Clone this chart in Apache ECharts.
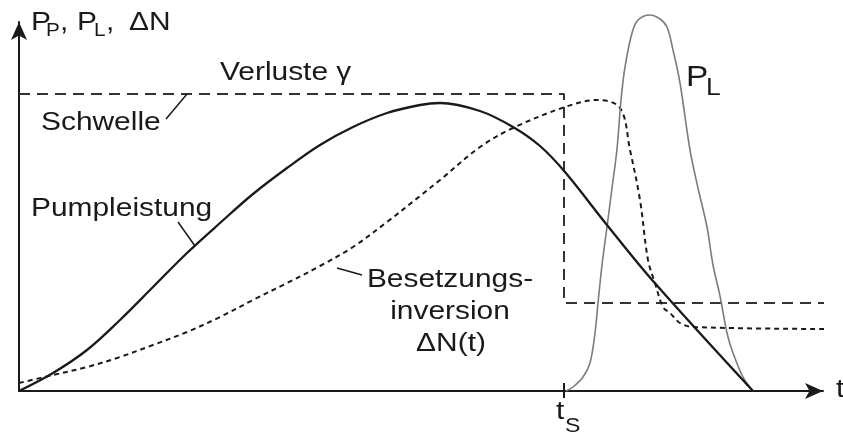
<!DOCTYPE html>
<html>
<head>
<meta charset="utf-8">
<script src="https://cdn.jsdelivr.net/npm/echarts@6/dist/echarts.min.js"></script>
<style>
  html, body { margin: 0; padding: 0; background: #fff; }
  #chart { width: 843px; height: 432px; }
</style>
</head>
<body>
<div id="chart"></div>
<script>
// Q-switched laser: pump power, population inversion, losses and laser pulse
// over time (arbitrary units on both axes).

// pump power P_P(t)
const pumpPower = [[0,0],[34,18],[68,41],[101,71],[134,104],[168,138],[201,168],[234,197],[268,223],[301,246],[334,264],[368,278],[401,286],[421,288],[461,280],[494,264],[521,245],[546,219],[588,166],[634,110],[734,0]];

// population inversion ΔN(t)
const inversion = [[0,8],[34,16],[68,24],[101,34],[134,46],[168,59],[201,74],[234,91],[268,108],[301,125],[334,144],[368,169],[401,195],[421,211],[461,244],[494,263],[546,284],[578,291],[601,283],[611,241],[621,191],[629,131],[636,108],[644,84],[651,78],[661,68],[674,64],[811,62]];

// laser output pulse P_L(t)
const laserPulse = [[547,0],[554,4],[564,14],[571,28],[576,58],[579,88],[583,126],[588,164],[593,203],[598,242],[602,291],[606,324],[613,358],[619,371],[631,376],[641,372],[648,364],[654,341],[661,308],[671,241],[679,203],[688,164],[694,126],[701,95],[708,58],[714,38],[724,14],[734,0]];

// losses γ (threshold): high before the switching time t_S, low afterwards
const switchTime = 545;
const lossLevels = [297, 88];
const lossEnd = 811;
const threshold = [[0, lossLevels[0]], [switchTime, lossLevels[0]], [switchTime, lossLevels[1]], [lossEnd, lossLevels[1]]];

// short leader lines from the curve names to their curves
const leaderSchwelle = [[147,272],[168,297]];
const leaderPump = [[159,169],[176,145]];
const leaderInversion = [[318,123],[343,116]];

const axisMaxT = 804;
const axisMaxY = 369;

const INK = '#1a1a1a';
const FONT = '"Liberation Sans", Arial, Helvetica, sans-serif';

function label(text, x, baseline, size, align) {
  return {
    type: 'text',
    x: x,
    y: baseline + 0.15 * size,
    scaleX: 1.15,
    silent: true,
    style: {
      text: text,
      font: size + 'px ' + FONT,
      fill: INK,
      align: align || 'left',
      verticalAlign: 'bottom'
    }
  };
}

function plain(name, data, lineStyle, extra) {
  return Object.assign({
    name: name,
    type: 'line',
    data: data,
    symbol: 'none',
    clip: false,
    silent: true,
    lineStyle: lineStyle
  }, extra || {});
}

const chart = echarts.init(document.getElementById('chart'), null, { renderer: 'canvas' });

chart.setOption({
  animation: false,
  backgroundColor: '#fff',
  grid: { left: 19, top: 22, right: 20, bottom: 41, containLabel: false },
  xAxis: {
    type: 'value', min: 0, max: axisMaxT,
    splitLine: { show: false },
    axisTick: { show: false },
    axisLabel: { show: false },
    axisLine: {
      show: true, onZero: false,
      symbol: ['none', 'arrow'], symbolSize: [12, 18],
      lineStyle: { color: INK, width: 2 }
    }
  },
  yAxis: {
    type: 'value', min: 0, max: axisMaxY,
    splitLine: { show: false },
    axisTick: { show: false },
    axisLabel: { show: false },
    axisLine: {
      show: true, onZero: false,
      symbol: ['none', 'arrow'], symbolSize: [12, 18],
      lineStyle: { color: INK, width: 2 }
    }
  },
  series: [
    plain('Verluste', threshold, { color: '#333', width: 2, type: [11, 7] }, { z: 2 }),
    plain('Besetzungsinversion', inversion, { color: INK, width: 2, type: [5, 4] }, { smooth: 0.35, z: 3 }),
    plain('Pumpleistung', pumpPower, { color: INK, width: 2.3 }, { smooth: 0.35, z: 4 }),
    plain('PL', laserPulse, { color: '#7c7c7c', width: 1.6 }, { smooth: 0.35, z: 3 }),
    plain('tS', [[switchTime, -7], [switchTime, 8]], { color: INK, width: 2 }, { z: 5 }),
    plain('l1', leaderSchwelle, { color: INK, width: 1.5 }),
    plain('l2', leaderPump, { color: INK, width: 1.5 }),
    plain('l3', leaderInversion, { color: INK, width: 1.5 })
  ],
  graphic: [
    // y-axis name: P_P, P_L, ΔN
    label('P', 31, 32, 26),
    label('P', 46, 37, 18),
    label(',', 60, 32, 26),
    label('P', 77, 32, 26),
    label('L', 94, 37, 18),
    label(',', 106, 32, 26),
    label('\u0394N', 129, 32, 26),
    // x-axis name
    label('t', 836, 399, 26),
    // switching time t_S
    label('t', 556, 421, 26),
    label('S', 565, 433, 20),
    // curve names
    label('Verluste \u03b3', 220, 82, 26),
    label('Schwelle', 41, 132, 26),
    label('Pumpleistung', 31, 218, 26),
    label('Besetzungs-', 450, 289, 26, 'center'),
    label('inversion', 450, 321, 26, 'center'),
    label('\u0394N(t)', 451, 353, 26, 'center'),
    label('P', 686, 88, 29),
    label('L', 706, 97, 23)
  ]
});
</script>
</body>
</html>
